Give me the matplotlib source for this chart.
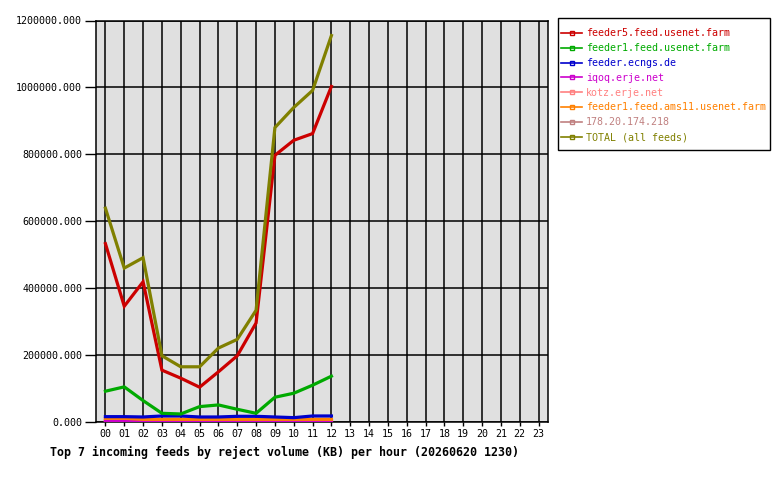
import matplotlib.pyplot as plt
from matplotlib.patches import Rectangle
import numpy as np

# Horas com dados (00..12)
horas = np.arange(13)
rotulos_x = ['%02d' % h for h in range(24)]

feeder5 = [533000, 346000, 419000, 155000, 131000, 104000, 150000, 198000, 296000, 797000, 842000, 862000, 1003000]
feeder1 = [92000, 105000, 64000, 26000, 24000, 46000, 51000, 38000, 26000, 74000, 86000, 110000, 137000]
ecngs = [16000, 16000, 15000, 18000, 18000, 15000, 15000, 17000, 17000, 15000, 13000, 18000, 18000]
iqoq = [2000, 2000, 2000, 2000, 2000, 3000, 3000, 5000, 3000, 2000, 2000, 2000, 2000]
kotz = [4000, 4000, 4000, 4000, 4000, 4000, 4000, 4000, 4000, 4000, 4000, 4000, 6000]
ams11 = [11000, 11000, 8000, 8000, 8000, 8000, 8000, 8000, 8000, 8000, 8000, 8000, 8000]
ip178 = [5000, 5000, 5000, 5000, 5000, 5000, 5000, 5000, 5000, 5000, 5000, 5000, 5000]
total = [639000, 460000, 491000, 198000, 165000, 165000, 221000, 247000, 334000, 880000, 940000, 991000, 1155000]

nomes = ['feeder5.feed.usenet.farm', 'feeder1.feed.usenet.farm', 'feeder.ecngs.de',
         'iqoq.erje.net', 'kotz.erje.net', 'feeder1.feed.ams11.usenet.farm',
         '178.20.174.218', 'TOTAL (all feeds)']
cores = ['#cc0000', '#00aa00', '#0000cc', '#cc00cc', '#ff8080', '#ff8000', '#c08080', '#808000']
series = [feeder5, feeder1, ecngs, iqoq, kotz, ams11, ip178, total]

plt.rcParams['font.family'] = 'DejaVu Sans Mono'

fig = plt.figure(figsize=(7.8, 4.8), dpi=100)
ax = fig.add_axes([96/780, 1 - 422/480, (548 - 96)/780, (422 - 20.5)/480])
ax.set_facecolor('#e0e0e0')

# ordem de desenho: as pequenas por baixo
ordem = [6, 4, 3, 5, 2, 1, 0, 7]
for i in ordem:
    ax.plot(horas, series[i], color=cores[i], lw=2.3, solid_joinstyle='miter', zorder=3)

ax.set_xlim(-0.5, 23.5)
ax.set_ylim(0, 1200000)
ax.set_xticks(range(24))
ax.set_xticklabels(rotulos_x)
yt = np.arange(0, 1200001, 200000)
ax.set_yticks(yt)
ax.set_yticklabels(['%.3f' % v for v in yt])
ax.tick_params(axis='both', labelsize=7.2, colors='black')
ax.tick_params(axis='y', length=8, width=1.0, pad=2)
ax.tick_params(axis='x', length=3, width=1.0, pad=2)
ax.grid(True, color='black', lw=1.1, zorder=1)
ax.set_axisbelow(True)
for s in ax.spines.values():
    s.set_linewidth(1.1)

# caixa da legenda desenhada à parte
fig.patches.append(Rectangle((558/780, 1 - 150/480), (770 - 558)/780, (150 - 18)/480,
                             transform=fig.transFigure, fill=False, edgecolor='black', lw=1.0))

handles = []
for i in range(8):
    h, = ax.plot([], [], color=cores[i], lw=1.2, marker='s', ms=2.5, mfc='none', mec=cores[i])
    handles.append(h)
leg = fig.legend(handles, nomes, loc='upper left', bbox_to_anchor=(561/780, 1 - 28.5/480),
                 fontsize=7.2, labelcolor='linecolor', frameon=False,
                 handlelength=2.1, handletextpad=0.4, labelspacing=0.48,
                 borderpad=0, borderaxespad=0, handleheight=0.7)

fig.text(50/780, 1 - 452/480, 'Top 7 incoming feeds by reject volume (KB) per hour (20260620 1230)',
         fontsize=8.35, fontweight='bold', va='center', ha='left')

fig.savefig('out.png', dpi=100)
